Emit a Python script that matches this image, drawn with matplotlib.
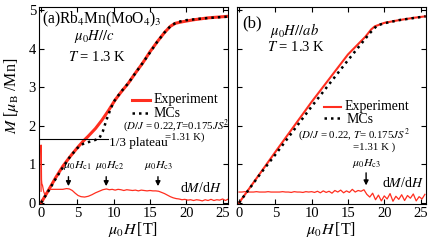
import matplotlib
matplotlib.use('Agg')
import matplotlib.pyplot as plt
import numpy as np

plt.rcParams['font.family'] = ['Liberation Serif', 'DejaVu Serif']
plt.rcParams['mathtext.fontset'] = 'stix'

red = '#ff2e1f'

# panel (a) H//c : magnetization
Ha_exp = [0, 1, 2, 3, 4, 5, 5.8, 6.5, 7.5, 8.4, 9.3, 10.2, 11, 12, 13, 14, 15, 16, 17, 17.8, 18.5, 19.5, 21, 23, 25.7]
Ma_exp = [0, 0.32, 0.65, 0.95, 1.2, 1.43, 1.6, 1.73, 1.93, 2.15, 2.4, 2.67, 2.87, 3.1, 3.37, 3.63, 3.92, 4.18, 4.42, 4.58, 4.66, 4.7, 4.75, 4.8, 4.84]
Ha_mc = [0, 1, 2, 3, 4, 5, 5.5, 6, 7, 8, 8.5, 9, 9.5, 10, 11, 12, 13, 14, 15, 16, 17, 18, 19, 20, 22, 24, 25.7]
Ma_mc = [0, 0.3, 0.62, 0.92, 1.2, 1.42, 1.5, 1.55, 1.6, 1.67, 1.85, 2.15, 2.4, 2.62, 2.88, 3.1, 3.37, 3.63, 3.9, 4.18, 4.42, 4.62, 4.7, 4.74, 4.78, 4.81, 4.83]
Ha_dm = [0, 0, 0.03, 0.06, 0.1, 0.2, 0.35, 0.5, 0.7, 0.9, 1.2, 1.6, 2.0, 2.5, 3.0, 3.5, 3.9, 4.3, 4.7, 5.1, 5.5, 6.0, 6.5, 7.0, 7.5, 8.0, 8.5, 9.0,
         9.4, 9.8, 10.2, 10.6, 11.0, 11.4, 11.8, 12.2, 12.6, 13.0, 13.4, 13.8, 14.2, 14.6, 15.0, 15.4, 15.8, 16.2, 16.6, 17.0, 17.4,
         17.8, 18.2, 18.6, 19.0, 19.4, 19.8, 20.2, 20.6, 21.0, 21.4, 21.8, 22.2, 22.6, 23.0, 23.4, 23.8, 24.2, 24.6, 25.0, 25.4, 25.7]
dMa = [0.3, 1.5, 1.2, 0.6, 0.5, 0.45, 0.3, 0.22, 0.25, 0.32, 0.35, 0.35, 0.35, 0.35, 0.35, 0.37, 0.36, 0.32, 0.25, 0.19, 0.16, 0.15, 0.17, 0.21, 0.26, 0.3, 0.34, 0.36,
       0.34, 0.35, 0.33, 0.35, 0.34, 0.32, 0.34, 0.33, 0.32, 0.33, 0.31, 0.33, 0.32, 0.31, 0.32, 0.31, 0.31, 0.3, 0.27, 0.24, 0.2,
       0.16, 0.13, 0.11, 0.1, 0.08, 0.09, 0.07, 0.08, 0.06, 0.08, 0.07, 0.05, 0.08, 0.06, 0.09, 0.06, 0.08, 0.07, 0.1, 0.06, 0.09]

# panel (b) H//ab
Hb_exp = [0, 5, 10, 15, 17.4, 18.2, 18.7, 20, 22, 24, 25.7]
Mb_exp = [0, 1.32, 2.62, 3.85, 4.31, 4.5, 4.58, 4.67, 4.74, 4.8, 4.84]
Hb_mc = [0, 3, 5, 10, 15, 18, 19, 20, 22, 25.7]
Mb_mc = [0, 0.77, 1.25, 2.5, 3.7, 4.4, 4.6, 4.66, 4.74, 4.84]
Hb_dm = np.linspace(0, 25.6, 65)
dMb = [0.28, 0.28, 0.29, 0.28, 0.28, 0.28, 0.29, 0.28, 0.28, 0.28, 0.29, 0.28, 0.28, 0.28, 0.28, 0.29, 0.28, 0.28, 0.27, 0.29, 0.28, 0.28, 0.27, 0.29, 0.28, 0.29,
       0.27, 0.30, 0.26, 0.31, 0.27, 0.30, 0.25, 0.32, 0.28, 0.33, 0.26, 0.31, 0.27, 0.35, 0.28, 0.32, 0.30, 0.34,
       0.22, 0.15, 0.25, 0.08, 0.20, 0.05, 0.18, 0.10, 0.24, 0.04, 0.17, 0.09, 0.21, 0.06, 0.19, 0.12, 0.23, 0.05, 0.16, 0.10, 0.22]

fig = plt.figure(figsize=(4.37, 2.44), dpi=100)
ax1 = fig.add_axes([0.089, 0.164, 0.432, 0.807])
ax2 = fig.add_axes([0.542, 0.164, 0.432, 0.807])

for ax in (ax1, ax2):
    ax.set_xlim(-0.3, 25.7)
    ax.set_ylim(-0.03, 5.08)
    ax.set_xticks([0, 5, 10, 15, 20, 25])
    ax.set_yticks([0, 1, 2, 3, 4, 5])
    ax.tick_params(direction='in', top=True, right=True, length=3.5, labelsize=10.5, pad=2)
    ax.set_xlabel(r'$\mu_0H\,$[T]', fontsize=11.5, labelpad=0)

ax2.set_yticklabels([])
ax1.set_ylabel(r'$M$ [$\mu_{\rm B}$ /Mn]', fontsize=11.5)
ax1.yaxis.set_label_coords(-0.095, 0.55)

dots = (0, (1, 1.6))

# (a)
ax1.plot(Ha_dm, dMa, color=red, lw=0.9)
ax1.plot(Ha_exp, Ma_exp, color=red, lw=2.2)
ax1.plot(Ha_mc, Ma_mc, color='black', lw=1.8, ls=dots)
ax1.plot([-0.3, 9.15], [1.667, 1.667], color='black', lw=0.8)
ax1.text(9.4, 1.56, '1/3 plateau', fontsize=9.5, va='center')
ax1.text(0.1, 4.76, r'(a)Rb$_4$Mn(MoO$_4$)$_3$', fontsize=11.2, va='center')
ax1.text(7.4, 4.32, r'$\mu_0H//c$', fontsize=10.5, ha='center', va='center')
ax1.text(7.7, 3.79, r'$T$ = 1.3 K', fontsize=10.5, ha='center', va='center')
ax1.plot([12.5, 15.0], [2.67, 2.67], color=red, lw=2.2)
ax1.text(15.45, 2.68, 'Experiment', fontsize=10, va='center')
ax1.plot([12.5, 15.0], [2.32, 2.32], color='black', lw=1.8, ls=dots)
ax1.text(15.45, 2.32, 'MCs', fontsize=10, va='center')
ax1.text(11.3, 2.0, r'($D/J$ = 0.22,$T$=0.175$JS^2$', fontsize=7.8, va='center')
ax1.text(17.1, 1.7, r'=1.31 K)', fontsize=7.8, va='center')
for h, lx, lab in [(3.77, 5.0, r'$\mu_0H_{\rm c1}$'), (8.97, 9.4, r'$\mu_0H_{\rm c2}$'), (16.1, 16.2, r'$\mu_0H_{\rm c3}$')]:
    ax1.annotate('', xy=(h, 0.36), xytext=(h, 0.75),
                 arrowprops=dict(arrowstyle='-|>', color='black', lw=1.0, mutation_scale=7))
    ax1.text(lx, 0.97, lab, fontsize=8.5, ha='center', va='center')
ax1.text(24.9, 0.38, r'd$M$/d$H$', fontsize=10, ha='right', va='center')

# (b)
ax2.plot(Hb_dm, dMb, color=red, lw=0.9)
ax2.plot(Hb_exp, Mb_exp, color=red, lw=1.5)
ax2.plot(Hb_mc, Mb_mc, color='black', lw=1.8, ls=dots)
ax2.text(0.4, 4.66, '(b)', fontsize=12, va='center')
ax2.text(7.6, 4.48, r'$\mu_0H//ab$', fontsize=10.5, ha='center', va='center')
ax2.text(7.8, 4.05, r'$T$ = 1.3 K', fontsize=10.5, ha='center', va='center')
ax2.plot([11.7, 14.1], [2.48, 2.48], color=red, lw=1.5)
ax2.text(14.5, 2.5, 'Experiment', fontsize=10, va='center')
ax2.plot([11.7, 14.1], [2.19, 2.19], color='black', lw=1.8, ls=dots)
ax2.text(14.8, 2.17, 'MCs', fontsize=10, va='center')
ax2.text(8.1, 1.78, r'($D/J$ = 0.22, $T$= 0.175$JS^2$', fontsize=7.8, va='center')
ax2.text(15.7, 1.45, r'=1.31 K )', fontsize=7.8, va='center')
ax2.annotate('', xy=(17.5, 0.38), xytext=(17.5, 0.85),
             arrowprops=dict(arrowstyle='-|>', color='black', lw=1.0, mutation_scale=7))
ax2.text(17.6, 1.02, r'$\mu_0H_{\rm c3}$', fontsize=8.5, ha='center', va='center')
ax2.text(25.4, 0.52, r'd$M$/d$H$', fontsize=10, ha='right', va='center')

fig.savefig('out.png', dpi=100)
